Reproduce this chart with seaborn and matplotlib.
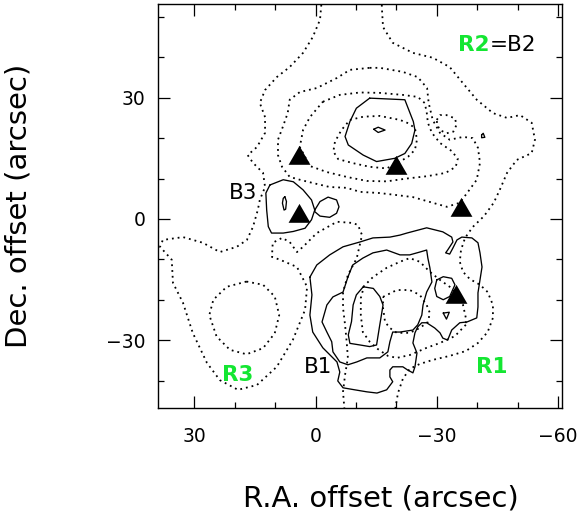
import matplotlib
matplotlib.use("Agg")
import matplotlib.pyplot as plt
import pandas as pd
import seaborn as sns
from matplotlib.path import Path
from matplotlib.ticker import FixedLocator, MultipleLocator

# ---------------- dotted contours (arcsec offsets: R.A., Dec.) ----------------
dot_west = [(-1.6, 55.0), (-1.1, 49.3), (0.7, 45.0), (3.1, 41.1), (6.4, 37.6), (9.6, 35.1),
            (12.5, 31.9), (13.8, 28.7), (12.5, 25.2), (12.5, 21.3), (14.5, 17.8), (16.8, 15.8),
            (15.5, 13.9), (13.0, 11.4), (12.5, 7.9), (13.8, 4.7), (14.3, 2.2), (15.5, -2.0),
            (17.0, -5.2), (19.5, -6.9), (23.7, -8.2), (27.9, -5.9), (32.8, -4.5), (37.8, -5.2),
            (38.5, -6.9), (35.6, -10.1), (35.3, -15.8), (32.8, -20.8), (30.4, -28.2),
            (26.9, -35.6), (23.7, -39.9), (19.2, -42.3), (14.5, -41.1), (9.6, -36.6),
            (5.6, -29.9), (2.6, -22.5), (2.1, -16.8), (4.6, -11.9), (8.8, -10.1), (10.8, -9.4),
            (10.6, -5.9), (8.3, -4.7), (6.4, -5.7), (4.6, -8.2), (3.1, -6.9), (-0.3, -3.5),
            (-5.3, -0.7), (-9.2, -1.0), (-10.5, -1.5), (-11.5, -4.0), (-10.2, -9.7),
            (-8.0, -13.9), (-6.8, -18.1), (-6.8, -22.0), (-7.3, -26.2), (-7.7, -30.4),
            (-8.0, -34.4), (-7.3, -38.6), (-6.8, -42.8), (-7.3, -49.0)]

dot_east = [(-16.4, 55.0), (-16.4, 52.5), (-16.7, 47.5), (-19.1, 43.6), (-24.1, 41.1),
            (-29.0, 39.9), (-33.2, 37.6), (-36.4, 33.7), (-39.9, 29.5), (-43.9, 26.2),
            (-47.4, 25.0), (-50.6, 25.7), (-53.5, 23.8), (-54.3, 19.6), (-53.5, 16.3),
            (-49.8, 14.6), (-47.4, 11.4), (-45.6, 7.2), (-44.1, 4.0), (-41.7, 0.7),
            (-38.9, -2.0), (-37.0, -4.7), (-36.0, -7.7), (-35.7, -10.6), (-36.5, -13.1),
            (-38.2, -14.9), (-40.7, -16.3), (-42.6, -18.1), (-43.9, -21.3), (-43.9, -24.5),
            (-42.6, -28.0), (-40.2, -30.7), (-37.2, -32.7), (-33.2, -33.9), (-29.0, -34.9),
            (-25.8, -35.9), (-23.3, -37.1), (-21.6, -39.6), (-20.4, -43.1), (-19.4, -49.0)]

dot_r3_core = [(17.1, -15.5), (13.0, -16.3), (10.1, -19.2), (9.0, -23.8), (10.1, -28.3),
               (13.0, -32.0), (17.1, -33.5), (21.2, -32.4), (24.5, -29.1), (26.3, -23.8),
               (25.3, -20.0), (22.0, -16.8)]

dot_b2_outer = [(-13.4, 37.4), (-15.9, 37.4), (-21.6, 36.4), (-25.3, 35.1), (-27.6, 32.4),
                (-28.0, 28.7), (-29.0, 24.5), (-30.8, 21.3), (-33.2, 19.6), (-36.5, 20.3),
                (-38.9, 20.0), (-40.2, 17.6), (-40.7, 13.9), (-39.9, 9.7), (-37.5, 6.4),
                (-35.7, 4.0), (-32.5, 3.0), (-28.3, 4.2), (-24.1, 5.4), (-20.1, 5.9),
                (-15.9, 6.4), (-11.0, 6.7), (-7.7, 7.7), (-3.5, 7.9), (0.7, 8.9), (3.9, 9.7),
                (6.4, 10.4), (8.3, 12.9), (9.3, 15.8), (9.3, 19.6), (8.1, 22.8), (6.9, 26.2),
                (6.4, 29.5), (3.9, 31.4), (-0.3, 32.4), (-5.3, 34.9), (-8.5, 36.9)]

dot_b2_mid = [(-1.8, 29.0), (-6.0, 30.7), (-11.0, 31.3), (-15.9, 31.2), (-21.6, 30.7),
              (-25.3, 30.2), (-27.0, 28.7), (-27.5, 26.5), (-27.8, 23.8), (-28.8, 21.3),
              (-30.8, 18.8), (-33.7, 16.8), (-35.2, 14.9), (-34.7, 12.9), (-32.2, 11.4),
              (-27.8, 10.6), (-22.6, 10.0), (-17.6, 9.3), (-12.7, 9.4), (-7.7, 10.4),
              (-2.8, 11.6), (1.4, 13.1), (3.9, 17.8), (3.1, 22.0), (1.4, 25.2)]

dot_b2_core = [(-8.5, 24.5), (-11.8, 25.3), (-15.9, 25.5), (-20.9, 24.5), (-22.9, 23.7),
               (-24.6, 22.5), (-25.1, 19.6), (-24.6, 17.1), (-22.9, 15.4), (-20.9, 14.2),
               (-17.6, 12.5), (-13.4, 12.9), (-9.3, 13.8), (-5.6, 14.8), (-4.4, 16.7),
               (-4.8, 19.1), (-6.4, 22.0)]

dot_ne_knot = [(-30.0, 24.5), (-30.8, 25.7), (-32.4, 25.7), (-34.5, 24.9), (-34.9, 23.3),
               (-34.1, 21.6), (-32.4, 21.2), (-30.8, 22.0), (-30.1, 23.3)]

dot_r1_mid = [(-37.2, -26.2), (-34.5, -29.0), (-30.8, -30.7), (-27.5, -31.9), (-23.3, -33.7),
              (-20.1, -34.4), (-17.9, -33.9), (-15.4, -32.2), (-13.4, -30.4), (-11.7, -28.0),
              (-11.2, -23.8), (-11.2, -19.6), (-12.0, -16.6), (-14.2, -14.4), (-17.6, -12.1),
              (-20.9, -10.6), (-23.3, -9.7), (-25.8, -10.6), (-28.3, -13.1), (-30.8, -15.1),
              (-33.2, -16.8), (-35.0, -18.8), (-36.5, -21.3), (-37.2, -24.5)]

dot_r1_core = [(-16.7, -19.3), (-20.1, -17.6), (-23.3, -17.6), (-25.8, -18.8), (-27.5, -21.3),
               (-28.3, -23.3), (-27.8, -25.5), (-25.8, -27.0), (-23.3, -28.2), (-20.1, -28.2),
               (-18.4, -27.0), (-17.2, -25.5), (-16.7, -22.0)]

# ---------------- solid contours ----------------
sol_b2 = [(-13.4, 29.9), (-22.1, 29.5), (-24.2, 24.1), (-24.6, 22.0), (-23.8, 18.7),
          (-22.1, 16.2), (-19.6, 15.0), (-15.1, 14.2), (-11.8, 15.8), (-8.1, 18.3),
          (-7.3, 20.4), (-8.5, 24.1), (-10.1, 27.4)]
sol_b2_peak = [(-14.4, 22.2), (-15.5, 22.7), (-17.2, 22.0), (-15.5, 21.4)]

sol_b3 = [(11.3, 8.4), (8.0, 9.7), (5.5, 9.2), (3.1, 7.2), (1.0, 4.7), (0.2, 2.2), (1.0, -0.2),
          (2.6, -2.3), (5.5, -3.1), (8.0, -3.5), (10.9, -3.5), (11.7, -1.9), (12.1, 2.2),
          (12.3, 6.4)]
sol_b3_side = [(0.2, 2.2), (-1.1, 4.3), (-3.1, 5.4), (-5.2, 4.7), (-5.8, 3.0), (-5.2, 1.4),
               (-3.5, 0.4), (-1.1, 0.7), (0.2, 1.8)]
sol_b3_peak = [(7.6, 5.5), (7.2, 4.3), (7.4, 2.4), (7.8, 2.2), (8.2, 3.9), (8.0, 5.1)]

sol_b1_outer = [(1.4, -14.4), (-0.3, -11.4), (-3.5, -8.9), (-6.8, -6.9), (-11.0, -5.7),
                (-14.2, -4.7), (-18.4, -4.5), (-20.9, -4.0), (-22.6, -3.5), (-27.5, -2.2),
                (-31.5, -3.2), (-33.7, -4.5), (-34.0, -5.7), (-32.7, -7.7), (-32.2, -8.4),
                (-33.2, -8.7), (-34.0, -7.2), (-35.0, -5.2), (-36.2, -4.5), (-38.7, -4.7),
                (-40.2, -5.9), (-40.7, -8.4), (-41.2, -11.9), (-40.7, -15.1), (-40.2, -18.3),
                (-40.2, -21.8), (-39.9, -24.5), (-37.5, -25.5), (-35.7, -25.7), (-33.7, -27.5),
                (-32.7, -30.0), (-31.5, -29.5), (-30.8, -28.2), (-29.5, -27.0), (-27.5, -25.7),
                (-26.3, -25.7), (-25.3, -26.7), (-24.6, -28.2), (-24.1, -30.7), (-25.1, -33.2),
                (-24.6, -36.6), (-24.1, -38.1), (-22.8, -37.4), (-21.6, -36.6), (-19.1, -36.6),
                (-18.4, -37.4), (-18.4, -39.1), (-19.1, -40.3), (-17.6, -42.3), (-15.2, -43.1),
                (-12.7, -42.8), (-9.7, -42.3), (-6.8, -41.8), (-5.5, -40.1), (-6.0, -37.9),
                (-5.3, -35.4), (-1.8, -31.9), (0.7, -28.0), (1.4, -23.8), (0.9, -18.8)]

sol_b1_mid = [(-8.0, -14.4), (-9.2, -11.4), (-11.7, -9.7), (-14.2, -8.4), (-17.6, -7.7),
              (-20.9, -8.9), (-23.3, -8.9), (-25.8, -8.2), (-27.5, -7.7), (-27.8, -9.7),
              (-28.3, -12.1), (-28.8, -15.6), (-27.5, -18.1), (-26.6, -21.3), (-26.3, -23.8),
              (-25.3, -26.2), (-24.1, -27.5), (-20.9, -28.0), (-19.1, -28.0), (-18.4, -30.4),
              (-17.9, -32.9), (-15.9, -34.4), (-12.7, -34.4), (-10.2, -35.4), (-8.0, -36.1),
              (-6.0, -35.4), (-4.3, -32.9), (-4.0, -30.4), (-2.8, -28.0), (-1.6, -25.5),
              (-2.8, -21.3), (-4.3, -19.3), (-6.8, -18.1)]

sol_b1_core = [(-11.8, -16.8), (-14.3, -17.2), (-15.9, -19.2), (-16.7, -21.3), (-16.3, -23.8),
               (-15.9, -26.2), (-15.5, -28.7), (-15.1, -31.2), (-13.4, -31.6), (-11.0, -31.2),
               (-8.5, -30.8), (-8.1, -28.7), (-8.9, -25.4), (-9.3, -21.3), (-10.1, -18.8)]

sol_r1_knot = [(-30.0, -15.1), (-31.6, -14.3), (-33.7, -14.7), (-34.5, -16.3), (-33.2, -19.2),
               (-31.6, -20.0), (-30.0, -19.2), (-29.5, -17.2)]
sol_r1_speck = [(-31.6, -23.3), (-33.1, -23.1), (-32.4, -24.8)]
sol_ne_speck = [(-41.1, 20.8), (-41.5, 21.2), (-41.9, 20.2), (-41.1, 20.1)]

# ---------------- source positions ----------------
src_ra = [4.1, -19.9, 4.1, -36.0, -34.7]
src_dec = [15.1, 12.7, 0.8, 2.2, -19.4]

# ---------------- region labels ----------------
label_text = ["B3", "B1"]
label_ra = [17.9, -0.6]
label_dec = [6.3, -36.7]
green_text = ["R3", "R1"]
green_ra = [19.2, -43.5]
green_dec = [-38.6, -36.7]

x_major = [30, 0, -30, -60]
y_major = [30, 0, -30]

GREEN = "#14e632"

sns.set_style("ticks")
plt.rcParams["font.family"] = ["DejaVu Sans"]
plt.rcParams["axes.linewidth"] = 1.0
plt.rcParams["text.color"] = "black"
plt.rcParams["axes.labelcolor"] = "black"
plt.rcParams["xtick.color"] = "black"
plt.rcParams["ytick.color"] = "black"
plt.rcParams["axes.edgecolor"] = "black"

fig = plt.figure(figsize=(5.79, 5.22), dpi=100)
ax = fig.add_axes([158 / 579, 114 / 522, 404 / 579, 404 / 522])


def trace(points, dotted, closed=True):
    pts = list(points) + ([points[0]] if closed else [])
    df = pd.DataFrame(pts, columns=["ra", "dec"])
    style = (0, (1.0, 2.2)) if dotted else "-"
    sns.lineplot(data=df, x="ra", y="dec", sort=False, estimator=None, ax=ax,
                 color="black", lw=1.3 if dotted else 0.95, linestyle=style)


for c in [dot_r3_core, dot_b2_outer, dot_b2_mid, dot_b2_core, dot_ne_knot,
          dot_r1_mid, dot_r1_core]:
    trace(c, dotted=True)
for c in [dot_west, dot_east]:
    trace(c, dotted=True, closed=False)
for c in [sol_b2, sol_b2_peak, sol_b3, sol_b3_side, sol_b3_peak, sol_b1_outer,
          sol_b1_mid, sol_b1_core, sol_r1_knot, sol_r1_speck, sol_ne_speck]:
    trace(c, dotted=False)

tri = Path([(-1.0, -0.577), (1.0, -0.577), (0.0, 1.155), (-1.0, -0.577)], closed=True)
src = pd.DataFrame({"ra": src_ra, "dec": src_dec})
sns.scatterplot(data=src, x="ra", y="dec", marker=tri, s=330, color="black",
                edgecolor="black", linewidth=0, ax=ax, zorder=5)

for t, x, y in zip(label_text, label_ra, label_dec):
    ax.text(x, y, t, fontsize=15.5, color="black", ha="center", va="center")
for t, x, y in zip(green_text, green_ra, green_dec):
    ax.text(x, y, t, fontsize=15.5, color=GREEN, fontweight="bold", ha="center", va="center")
ax.text(-43.1, 43.1, "R2", fontsize=15.5, color=GREEN, fontweight="bold", ha="right", va="center")
ax.text(-43.1, 43.1, "=B2", fontsize=15.5, color="black", ha="left", va="center")

ax.set_xlim(39, -61)
ax.set_ylim(-46.8, 53.2)
ax.xaxis.set_major_locator(FixedLocator(x_major))
ax.yaxis.set_major_locator(FixedLocator(y_major))
ax.xaxis.set_minor_locator(MultipleLocator(10))
ax.yaxis.set_minor_locator(MultipleLocator(10))
ax.tick_params(which="both", direction="in", top=True, right=True, color="black", width=0.9)
ax.tick_params(which="major", length=8.5, labelsize=13.5, labelcolor="black")
ax.tick_params(which="minor", length=4.5)
ax.tick_params(axis="x", which="major", pad=14)
ax.tick_params(axis="y", which="major", pad=9)
for s in ax.spines.values():
    s.set_color("black")

ax.set_xlabel("R.A. offset (arcsec)", fontsize=21, color="black")
ax.set_ylabel("Dec. offset (arcsec)", fontsize=21, color="black")
ax.xaxis.set_label_coords(0.552, -0.19)
ax.yaxis.set_label_coords(-0.31, 0.5)

fig.savefig("out.png", dpi=100, facecolor="white")
